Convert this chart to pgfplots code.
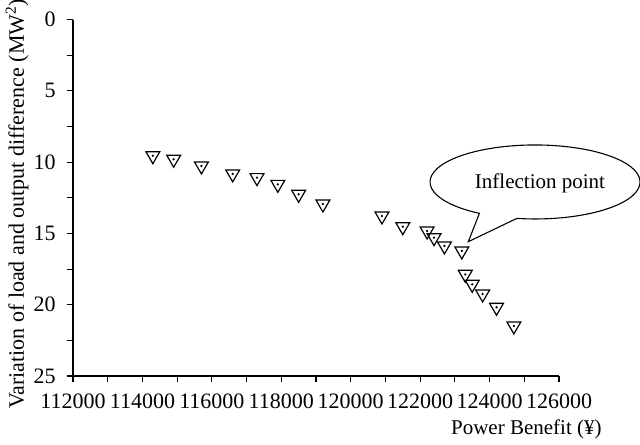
\documentclass[border=0pt]{standalone}
\usepackage{pgfplots}
\pgfplotsset{compat=1.18}
\usepackage{pgfplotstable}
\usepackage{fontspec}
\setmainfont{Liberation Serif}

\pgfplotstableread{
x y
114300 9.55
114900 9.80
115700 10.27
116600 10.83
117300 11.09
117900 11.56
118500 12.26
119200 12.94
120900 13.78
121500 14.53
122200 14.83
122400 15.30
122700 15.88
123200 16.23
123300 17.87
123500 18.57
123800 19.25
124200 20.18
124700 21.49
}\pts

\begin{document}
\begin{tikzpicture}
\path[use as bounding box] (-36.5pt,-34pt) rectangle (283.5pt,188pt);
\begin{axis}[
  at={(0,0)}, anchor=south west,
  scale only axis,
  width=243pt, height=178.25pt,
  xmin=112000, xmax=126000,
  ymin=0, ymax=25,
  y dir=reverse,
  axis x line=bottom, axis y line=left,
  axis line style={-, line width=0.55pt},
  xtick={112000,114000,...,126000},
  ytick={0,5,...,25},
  minor x tick num=1, minor y tick num=1,
  tick align=outside,
  major tick length=3.2pt, minor tick length=3.2pt,
  tick style={line width=0.55pt, black},
  scaled x ticks=false,
  xticklabel style={/pgf/number format/fixed, /pgf/number format/precision=0, /pgf/number format/1000 sep={}, yshift=-2pt},
  yticklabel style={/pgf/number format/fixed, xshift=-2pt},
  /pgf/number format/assume math mode=true,
  ticklabel style={font=\fontsize{11}{13}\selectfont},
  xlabel={Power Benefit (¥)},
  ylabel={Variation of load and output difference (MW\textsuperscript{2})},
  xlabel style={font=\fontsize{10.5}{12}\selectfont, at={(axis description cs:1,0)}, anchor=base east, inner sep=0pt, xshift=21.5pt, yshift=-29pt},
  ylabel style={font=\fontsize{11}{13}\selectfont, at={(axis description cs:-0.115,0.483)}, anchor=center},
  clip=false,
]
\addplot[only marks, mark=triangle, mark size=4pt,
  mark options={rotate=180, line width=0.6pt, draw=black, fill=white}] table[x=x,y=y] {\pts};
\addplot[only marks, mark=*, mark size=0.35pt,
  mark options={draw=black, fill=black}] table[x=x,y=y] {\pts};
\end{axis}
\draw[line width=0.55pt, fill=white] (221.9pt,78.8pt)
  arc[start angle=260, end angle=598, x radius=52.5pt, y radius=18.5pt]
  -- (197.65pt,67.15pt) -- cycle;
\node[font=\fontsize{10.5}{12}\selectfont] at (233.5pt,96.5pt) {Inflection point};
\end{tikzpicture}
\end{document}
